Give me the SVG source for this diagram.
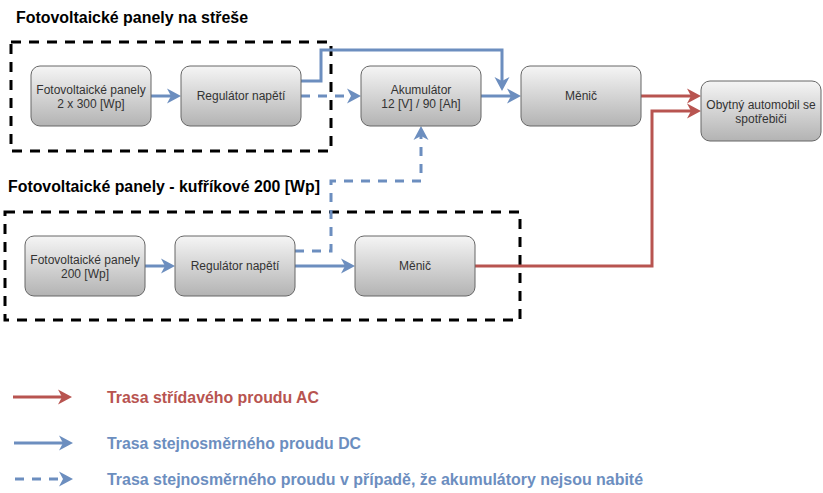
<svg xmlns="http://www.w3.org/2000/svg" width="823" height="493" viewBox="0 0 823 493">
<defs>
<linearGradient id="g" x1="0" y1="0" x2="0" y2="1">
<stop offset="0" stop-color="#f5f5f5"/>
<stop offset="1" stop-color="#b3b3b3"/>
</linearGradient>
<marker id="ab" viewBox="-5 -9 17 18" refX="0" refY="0" markerWidth="17" markerHeight="18" markerUnits="userSpaceOnUse" orient="auto" overflow="visible">
<path d="M-4,-7.5 L10,0 L-4,7.5 L0,0 Z" fill="#6c8ebf"/>
</marker>
<marker id="ar" viewBox="-5 -9 17 18" refX="0" refY="0" markerWidth="17" markerHeight="18" markerUnits="userSpaceOnUse" orient="auto" overflow="visible">
<path d="M-4,-7.5 L10,0 L-4,7.5 L0,0 Z" fill="#b85450"/>
</marker>
</defs>
<style>
.box{fill:url(#g);stroke:#666666;stroke-width:1}
.bt{font-family:"Liberation Sans",Arial,sans-serif;font-size:12px;fill:#333333;text-anchor:middle}
.grp{fill:none;stroke:#000000;stroke-width:3;stroke-dasharray:10 8}
.title{font-family:"Liberation Sans",Arial,sans-serif;font-size:16px;font-weight:bold;fill:#000000}
.blue{fill:none;stroke:#6c8ebf;stroke-width:3;marker-end:url(#ab)}
.dash{stroke-dasharray:9 8}
.red{fill:none;stroke:#b85450;stroke-width:3;marker-end:url(#ar)}
.leg{font-family:"Liberation Sans",Arial,sans-serif;font-size:16px;font-weight:bold}
</style>
<g id="group-roof">
<rect class="grp" x="11" y="42" width="320" height="109"/>
<text class="title" x="16" y="23" textLength="232" lengthAdjust="spacingAndGlyphs">Fotovoltaické panely na střeše</text>
</g>
<g id="group-case">
<rect class="grp" x="5" y="212" width="515" height="108"/>
<text class="title" x="8" y="192" textLength="312" lengthAdjust="spacingAndGlyphs">Fotovoltaické panely - kufříkové 200 [Wp]</text>
</g>
<g id="connectors">
<path class="blue" d="M151,96 L171,96"/>
<path class="blue dash" d="M301,96 L351,96"/>
<path class="blue" d="M301,81 L321,81 L321,50 L502,50 L502,81"/>
<path class="blue" d="M481,96 L511,96"/>
<path class="red" d="M641,96 L691,96"/>
<path class="red" d="M475,266 L652,266 L652,111 L691,111"/>
<path class="blue" d="M145,266 L165,266"/>
<path class="blue" d="M295,266 L345,266"/>
<path class="blue dash" d="M295,251 L331,251 L331,181 L421,181 L421,136"/>
</g>
<g id="fv1"><rect class="box" x="31" y="66" width="120" height="60" rx="9"/><text class="bt" x="91" y="94">Fotovoltaické panely</text><text class="bt" x="91" y="108">2 x 300 [Wp]</text></g>
<g id="reg1"><rect class="box" x="181" y="66" width="120" height="60" rx="9"/><text class="bt" x="241" y="100">Regulátor napětí</text></g>
<g id="aku"><rect class="box" x="361" y="66" width="120" height="60" rx="9"/><text class="bt" x="421" y="94">Akumulátor</text><text class="bt" x="421" y="108">12 [V] / 90 [Ah]</text></g>
<g id="menic1"><rect class="box" x="521" y="66" width="120" height="60" rx="9"/><text class="bt" x="581" y="100">Měnič</text></g>
<g id="obytny"><rect class="box" x="701" y="81" width="120" height="60" rx="9"/><text class="bt" x="761" y="109">Obytný automobil se</text><text class="bt" x="761" y="123">spotřebiči</text></g>
<g id="fv2"><rect class="box" x="25" y="236" width="120" height="60" rx="9"/><text class="bt" x="85" y="264">Fotovoltaické panely</text><text class="bt" x="85" y="278">200 [Wp]</text></g>
<g id="reg2"><rect class="box" x="175" y="236" width="120" height="60" rx="9"/><text class="bt" x="235" y="270">Regulátor napětí</text></g>
<g id="menic2"><rect class="box" x="355" y="236" width="120" height="60" rx="9"/><text class="bt" x="415" y="270">Měnič</text></g>
<g id="legend">
<path class="red" d="M13,397 L62,397"/>
<text class="leg" x="107" y="402.5" fill="#b85450" textLength="212" lengthAdjust="spacingAndGlyphs">Trasa střídavého proudu AC</text>
<path class="blue" d="M14,443 L63,443"/>
<text class="leg" x="107" y="449" fill="#6c8ebf" textLength="254" lengthAdjust="spacingAndGlyphs">Trasa stejnosměrného proudu DC</text>
<path class="blue dash" d="M15,479 L63,479"/>
<text class="leg" x="107" y="485" fill="#6c8ebf" textLength="536" lengthAdjust="spacingAndGlyphs">Trasa stejnosměrného proudu v případě, že akumulátory nejsou nabité</text>
</g>
</svg>
